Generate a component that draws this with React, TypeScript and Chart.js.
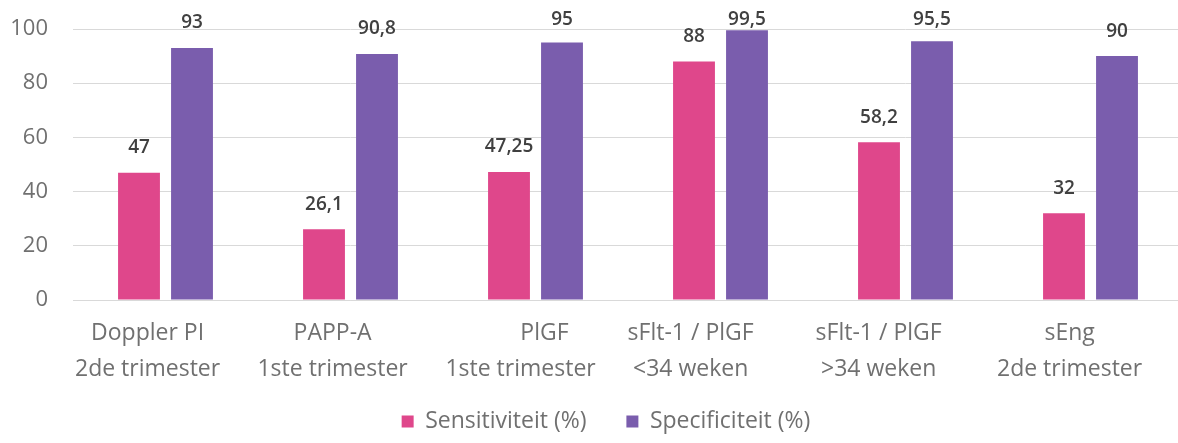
import React, { useEffect, useRef } from "react";
import { Chart, registerables } from "chart.js";

Chart.register(...registerables);

const categories: string[][] = [
  ["Doppler PI      ", "2de trimester      "],
  ["PAPP-A      ", "1ste trimester      "],
  ["   PlGF", "1ste trimester     "],
  ["sFlt-1 / PlGF          ", "<34 weken          "],
  ["sFlt-1 / PlGF         ", ">34 weken         "],
  ["sEng       ", "2de trimester       "],
];
const sensitivity = [47, 26.1, 47.25, 88, 58.2, 32];
const specificity = [93, 90.8, 95, 99.5, 95.5, 90];
const sensitivityLabels = ["47", "26,1", "47,25", "88", "58,2", "32"];
const specificityLabels = ["93", "90,8", "95", "99,5", "95,5", "90"];
const yTicks = [0, 20, 40, 60, 80, 100];

const PINK = "#DF478B";
const PURPLE = "#7A5DAD";

const valueLabelPlugin = {
  id: "valueLabels",
  afterDatasetsDraw(chart: any) {
    const ctx = chart.ctx;
    const lists = [sensitivityLabels, specificityLabels];
    ctx.save();
    ctx.font = "600 19px 'Open Sans'";
    ctx.fillStyle = "#404040";
    ctx.textAlign = "center";
    ctx.textBaseline = "middle";
    chart.data.datasets.forEach((_: any, di: number) => {
      const meta = chart.getDatasetMeta(di);
      meta.data.forEach((bar: any, i: number) => {
        const y = Math.max(bar.y - 25, 20);
        ctx.fillText(lists[di][i], bar.x, y);
      });
    });
    ctx.restore();
  },
};

export default function App() {
  const ref = useRef<HTMLCanvasElement | null>(null);
  useEffect(() => {
    if (!ref.current) return;
    const chart = new Chart(ref.current, {
      type: "bar",
      data: {
        labels: categories,
        datasets: [
          {
            label: "Sensitiviteit (%)",
            data: sensitivity,
            backgroundColor: PINK,
            categoryPercentage: 0.573,
            barPercentage: 0.79,
          },
          {
            label: "Specificiteit (%)",
            data: specificity,
            backgroundColor: PURPLE,
            categoryPercentage: 0.573,
            barPercentage: 0.79,
          },
        ],
      },
      options: {
        animation: false,
        responsive: false,
        layout: { padding: { top: 29, left: 0, right: 0, bottom: 0 } },
        plugins: {
          tooltip: { enabled: false },
          legend: {
            position: "bottom",
            labels: {
              boxWidth: 12,
              boxHeight: 12,
              padding: 10,
              color: "#707070",
              font: { family: "'Open Sans'", size: 23, weight: "normal" },
              generateLabels(chart: any) {
                const base = Chart.defaults.plugins.legend.labels.generateLabels(chart);
                return base.map((l: any, i: number) => ({
                  ...l,
                  lineWidth: 0,
                  text: i === 0 ? l.text + "     " : l.text,
                }));
              },
            },
          },
        },
        scales: {
          x: {
            grid: { display: false, drawTicks: false },
            border: { display: true, color: "#d9d9d9", width: 1 },
            ticks: {
              color: "#707070",
              padding: 15,
              maxRotation: 0,
              autoSkip: false,
              font: { family: "'Open Sans'", size: 23, lineHeight: 1.565 },
            },
            afterFit(scale: any) {
              scale.height = 100;
            },
          },
          y: {
            min: 0,
            max: 100,
            afterBuildTicks(scale: any) {
              scale.ticks = yTicks.map((v) => ({ value: v }));
            },
            grid: { color: "#d9d9d9", drawTicks: true, tickLength: 21, tickColor: "rgba(0,0,0,0)", lineWidth: 1 },
            border: { display: false },
            ticks: {
              color: "#707070",
              padding: 4,
              font: { family: "'Open Sans'", size: 22 },
            },
            afterFit(scale: any) {
              scale.width = 73;
            },
          },
          yRight: {
            type: "linear",
            position: "right",
            display: true,
            grid: { display: false, drawTicks: false },
            border: { display: false },
            ticks: { display: false },
            afterFit(scale: any) {
              scale.width = 29;
            },
          },
        },
      },
      plugins: [valueLabelPlugin],
    });
    return () => chart.destroy();
  }, []);
  return (
    <div style={{ position: "fixed", left: 0, top: 0, width: 1178, height: 443, overflow: "hidden", background: "#fff" }}>
      <canvas ref={ref} width={1212} height={443} style={{ display: "block" }} />
    </div>
  );
}
